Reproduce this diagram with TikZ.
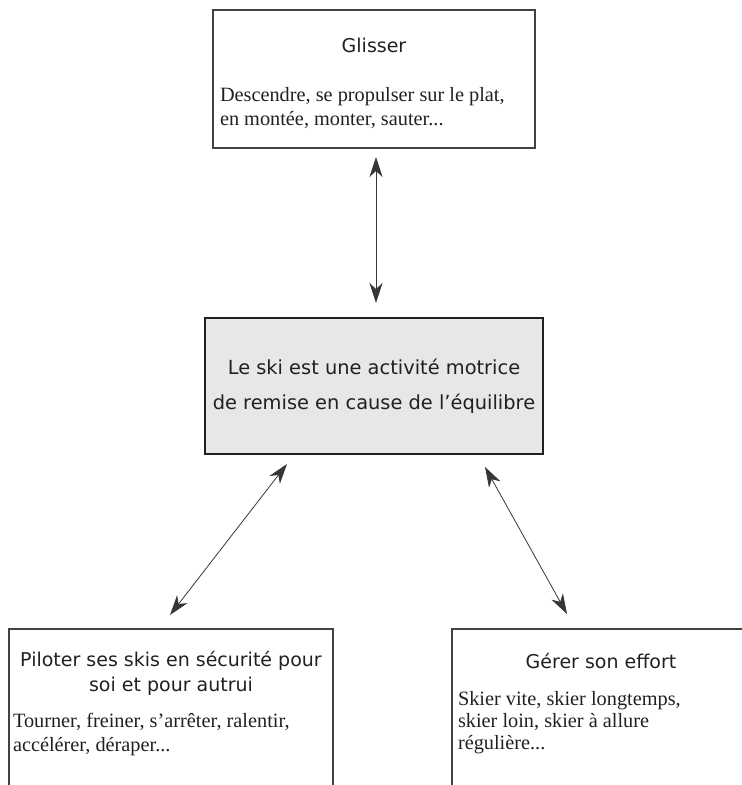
\documentclass[tikz,border=0pt]{standalone}
\usepackage{fontspec}
\setmainfont{Liberation Serif}
\newfontfamily\headfont{DejaVu Sans}
\usetikzlibrary{arrows.meta}
\definecolor{ink}{HTML}{231F20}
\definecolor{boxgrey}{HTML}{E6E7E8}
\begin{document}
\begin{tikzpicture}[x=1pt,y=-1pt,
  every node/.style={inner sep=0pt,outer sep=0pt,text=ink},
  frame/.style={draw=ink!85,line width=1.1pt,minimum width=#1,rectangle},
  head/.style={font=\headfont\fontsize{19}{19}\selectfont},
  mid/.style={font=\headfont\fontsize{19.4}{19}\selectfont},
  body/.style={font=\fontsize{20.3}{20}\selectfont},
  dbl/.style={draw=ink!90,line width=0.8pt,{Stealth[length=20pt,width=13pt,inset=6pt]}-{Stealth[length=20pt,width=13pt,inset=6pt]}}
]
\useasboundingbox (0,0) rectangle (742,785);

% top box
\node[frame=322pt,minimum height=138pt] (glis) at (374,79) {};
\node[head,anchor=base] (glisT) at (374,52) {Glisser};
\node[body,anchor=base west] (glis1) at (220,101) {Descendre, se propulser sur le plat,};
\node[body,anchor=base west] (glis2) at (220,125) {en montée, monter, sauter...};

% center box
\node[draw=ink,line width=2pt,fill=boxgrey,minimum width=338pt,minimum height=136pt] (ski) at (374,386) {};
\node[mid,anchor=base] (ski1) at (374,374) {Le ski est une activité motrice};
\node[mid,anchor=base] (ski2) at (374,409) {de remise en cause de l’équilibre};

% bottom left (open) box
\node[minimum width=324pt,minimum height=156pt] (pil) at (171,707) {};
\draw[draw=ink!85,line width=1.1pt] (pil.south west) -- (pil.north west) -- (pil.north east) -- (pil.south east);
\node[head,anchor=base] (pilT1) at (171,666) {Piloter ses skis en sécurité pour};
\node[head,anchor=base] (pilT2) at (171,691) {soi et pour autrui};
\node[body,anchor=base west] (pil1) at (13,727) {Tourner, freiner, s’arrêter, ralentir,};
\node[body,anchor=base west] (pil2) at (13,751) {accélérer, déraper...};

% bottom right (open) box
\node[minimum width=290pt,minimum height=156pt] (ger) at (597,707) {};
\draw[draw=ink!85,line width=1.1pt] (ger.south west) -- (ger.north west) -- (ger.north east);
\node[head,anchor=base] (gerT) at (601,668) {Gérer son effort};
\node[body,anchor=base west] (ger1) at (458,705) {Skier vite, skier longtemps,};
\node[body,anchor=base west] (ger2) at (458,727) {skier loin, skier à allure};
\node[body,anchor=base west] (ger3) at (458,749) {régulière...};

% connectors
\draw[dbl,shorten <=9pt,shorten >=15pt] ([xshift=2pt]glis.south) -- ([xshift=2pt]ski.north);
\coordinate (a1) at (287,464);
\coordinate (a2) at (170,615);
\coordinate (b1) at (485,467);
\coordinate (b2) at (567,614);
\draw[dbl] (a1) -- (a2);
\draw[dbl] (b1) -- (b2);
\end{tikzpicture}
\end{document}
